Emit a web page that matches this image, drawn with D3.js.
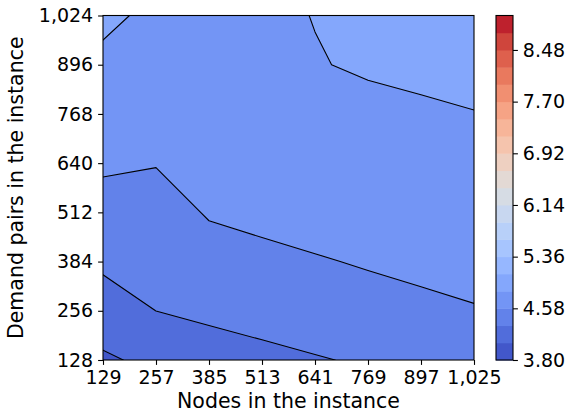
<!DOCTYPE html>
<html>
<head>
<meta charset="utf-8">
<script src="https://cdn.jsdelivr.net/npm/d3@7"></script>
<style>
  body { margin: 0; background: #fff; }
  svg text { font-family: "DejaVu Sans", sans-serif; fill: #000; }
</style>
</head>
<body>
<div id="chart"></div>
<script>
"use strict";

// grid axes
const nodes = [129, 257, 385, 513, 641, 769, 897, 1025];
const demandPairs = [128, 256, 384, 512, 640, 768, 896, 1024];

// one row per demand-pair value (bottom to top), columns follow nodes
const ratio = [
  [4.025, 4.117, 4.150, 4.200, 4.300, 4.353, 4.400, 4.450],
  [4.200, 4.321, 4.393, 4.493, 4.482, 4.480, 4.540, 4.560],
  [4.364, 4.420, 4.507, 4.540, 4.560, 4.602, 4.622, 4.693],
  [4.480, 4.500, 4.595, 4.622, 4.685, 4.690, 4.700, 4.740],
  [4.619, 4.588, 4.650, 4.680, 4.730, 4.750, 4.760, 4.790],
  [4.680, 4.660, 4.700, 4.730, 4.780, 4.792, 4.810, 4.835],
  [4.780, 4.730, 4.740, 4.780, 4.830, 4.862, 4.887, 4.898],
  [4.900, 4.780, 4.780, 4.800, 4.845, 4.900, 4.950, 4.980]
];

// contour levels and colorbar ticks
const levels = [3.80, 4.06, 4.32, 4.58, 4.84, 5.10, 5.36, 5.62, 5.88, 6.14, 6.40,
  6.66, 6.92, 7.18, 7.44, 7.70, 7.96, 8.22, 8.48, 8.74, 9.00];
const cbarTicks = [3.80, 4.58, 5.36, 6.14, 6.92, 7.70, 8.48];

// matplotlib coolwarm control points (33 per channel)
const cwR = [0.2298, 0.2662, 0.3039, 0.3428, 0.3830, 0.4244, 0.4667, 0.5096, 0.5530,
  0.5963, 0.6392, 0.6813, 0.7222, 0.7615, 0.7987, 0.8335, 0.8654, 0.8978, 0.9241,
  0.9445, 0.9589, 0.9673, 0.9700, 0.9668, 0.9580, 0.9437, 0.9239, 0.8990, 0.8692,
  0.8346, 0.7956, 0.7525, 0.7057];
const cwG = [0.2987, 0.3531, 0.4065, 0.4588, 0.5094, 0.5581, 0.6046, 0.6483, 0.6889,
  0.7261, 0.7596, 0.7890, 0.8140, 0.8343, 0.8498, 0.8602, 0.8654, 0.8489, 0.8274,
  0.8009, 0.7698, 0.7341, 0.6943, 0.6504, 0.6028, 0.5518, 0.4973, 0.4396, 0.3783,
  0.3129, 0.2413, 0.1572, 0.0156];
const cwB = [0.7537, 0.8015, 0.8450, 0.8837, 0.9174, 0.9456, 0.9682, 0.9848, 0.9954,
  0.9998, 0.9982, 0.9904, 0.9766, 0.9569, 0.9317, 0.9011, 0.8654, 0.8209, 0.7745,
  0.7267, 0.6780, 0.6288, 0.5794, 0.5303, 0.4818, 0.4342, 0.3880, 0.3432, 0.3003,
  0.2593, 0.2205, 0.1841, 0.1502];

function coolwarm(t) {
  const p = Math.max(0, Math.min(1, t)) * 32;
  const k = Math.min(31, Math.floor(p));
  const f = p - k;
  const ch = function(a) { return Math.round(255 * (a[k] + (a[k + 1] - a[k]) * f)); };
  return d3.rgb(ch(cwR), ch(cwG), ch(cwB)).formatHex();
}

const W = 571, H = 417;
const plot = { left: 103, right: 474, top: 15.5, bottom: 360 };
const cbar = { left: 496, right: 513 };
const tickLen = 4.9, tickPad = 4.9;
const tickFont = 19, labelFont = 20.5;

const svg = d3.select('#chart').append('svg')
  .attr('width', W)
  .attr('height', H);

const x = d3.scaleLinear()
  .domain([nodes[0], nodes[nodes.length - 1]])
  .range([plot.left, plot.right]);
const y = d3.scaleLinear()
  .domain([demandPairs[0], demandPairs[demandPairs.length - 1]])
  .range([plot.bottom, plot.top]);

const nLevels = levels.length - 1;
const color = function(k) { return coolwarm((k + 0.5) / nLevels); };

// contour grid: value at index i sits at grid coordinate i + 0.5
const dx = nodes[1] - nodes[0];
const dy = demandPairs[1] - demandPairs[0];
const toScreen = d3.geoTransform({
  point: function(gx, gy) {
    this.stream.point(x(nodes[0] + (gx - 0.5) * dx), y(demandPairs[0] + (gy - 0.5) * dy));
  }
});
const path = d3.geoPath(toScreen);

const contours = d3.contours()
  .size([nodes.length, demandPairs.length])
  .thresholds(levels.slice(0, -1))(ratio.flat());

svg.append('clipPath')
  .attr('id', 'plot-clip')
  .append('rect')
  .attr('x', plot.left)
  .attr('y', plot.top)
  .attr('width', plot.right - plot.left)
  .attr('height', plot.bottom - plot.top);

const area = svg.append('g').attr('clip-path', 'url(#plot-clip)');

area.selectAll('path.band')
  .data(contours)
  .enter().append('path')
  .attr('class', 'band')
  .attr('d', path)
  .attr('fill', function(d, i) { return color(i); })
  .attr('stroke', function(d, i) { return color(i); })
  .attr('stroke-width', 0.4);

area.selectAll('path.line')
  .data(contours.slice(1))
  .enter().append('path')
  .attr('class', 'line')
  .attr('d', path)
  .attr('fill', 'none')
  .attr('stroke', '#000')
  .attr('stroke-width', 1.1)
  .attr('stroke-linejoin', 'round');

// axes
const xAxis = svg.append('g')
  .attr('transform', `translate(0,${plot.bottom})`)
  .call(d3.axisBottom(x)
    .tickValues(nodes)
    .tickFormat(d3.format(','))
    .tickSize(tickLen)
    .tickPadding(tickPad)
    .tickSizeOuter(0));

const yAxis = svg.append('g')
  .attr('transform', `translate(${plot.left},0)`)
  .call(d3.axisLeft(y)
    .tickValues(demandPairs)
    .tickFormat(d3.format(','))
    .tickSize(tickLen)
    .tickPadding(tickPad)
    .tickSizeOuter(0));

[xAxis, yAxis].forEach(function(g) {
  g.attr('font-family', null).attr('font-size', null);
  g.selectAll('text').style('font-size', tickFont + 'px');
  g.selectAll('line').attr('stroke', '#000').attr('stroke-width', 1.1);
  g.select('.domain').remove();
});
xAxis.selectAll('text').attr('dy', '0.74em');

svg.append('rect')
  .attr('x', plot.left)
  .attr('y', plot.top)
  .attr('width', plot.right - plot.left)
  .attr('height', plot.bottom - plot.top)
  .attr('fill', 'none')
  .attr('stroke', '#000')
  .attr('stroke-width', 1.1);

svg.append('text')
  .attr('x', (plot.left + plot.right) / 2)
  .attr('y', 408)
  .attr('text-anchor', 'middle')
  .style('font-size', labelFont + 'px')
  .text('Nodes in the instance');

svg.append('text')
  .attr('transform', `translate(23,${(plot.top + plot.bottom) / 2}) rotate(-90)`)
  .attr('text-anchor', 'middle')
  .style('font-size', labelFont + 'px')
  .text('Demand pairs in the instance');

// colorbar
const cy = d3.scaleLinear()
  .domain([levels[0], levels[nLevels]])
  .range([plot.bottom, plot.top]);

const cb = svg.append('g');
cb.selectAll('rect.swatch')
  .data(d3.range(nLevels))
  .enter().append('rect')
  .attr('class', 'swatch')
  .attr('x', cbar.left)
  .attr('y', function(k) { return cy(levels[k + 1]); })
  .attr('width', cbar.right - cbar.left)
  .attr('height', function(k) { return cy(levels[k]) - cy(levels[k + 1]) + 0.5; })
  .attr('fill', function(k) { return color(k); });

cb.append('rect')
  .attr('x', cbar.left)
  .attr('y', plot.top)
  .attr('width', cbar.right - cbar.left)
  .attr('height', plot.bottom - plot.top)
  .attr('fill', 'none')
  .attr('stroke', '#000')
  .attr('stroke-width', 1.1);

const cAxis = cb.append('g')
  .attr('transform', `translate(${cbar.right},0)`)
  .call(d3.axisRight(cy)
    .tickValues(cbarTicks)
    .tickFormat(d3.format('.2f'))
    .tickSize(tickLen)
    .tickPadding(tickPad)
    .tickSizeOuter(0));
cAxis.attr('font-family', null).attr('font-size', null);
cAxis.selectAll('text').style('font-size', tickFont + 'px');
cAxis.selectAll('line').attr('stroke', '#000').attr('stroke-width', 1.1);
cAxis.select('.domain').remove();
</script>
</body>
</html>
